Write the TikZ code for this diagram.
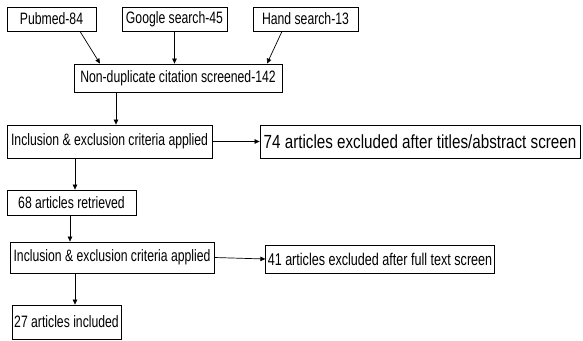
\documentclass[tikz,border=0pt]{standalone}
\usepackage{fontspec}
\setmainfont{Liberation Sans}
\newfontfamily\narrowsans{Liberation Sans}[FakeStretch=0.74]
\newfontfamily\widesans{Liberation Sans}[FakeStretch=0.8]
\usepackage{tikz}
\usetikzlibrary{arrows.meta,positioning}

\begin{document}
\begin{tikzpicture}[x=1pt,y=-1pt,font=\narrowsans\fontsize{16.5}{18}\selectfont,
  box/.style={draw,line width=0.8pt,inner sep=2pt,align=left},
  big/.style={font=\widesans\fontsize{19}{21}\selectfont},
  mid/.style={font=\narrowsans\fontsize{17}{19}\selectfont},
  arr/.style={-{Triangle[length=5pt,width=4.5pt]},line width=0.7pt}]
\useasboundingbox (0,0) rectangle (583,340);
\node[box,minimum width=89pt,minimum height=24pt] (pubmed) at (51.5,19) {Pubmed-84};
\node[box,minimum width=105pt,minimum height=24pt] (google) at (174.5,19) {Google search-45};
\node[box,minimum width=105pt,minimum height=24pt] (hand) at (305.5,19) {Hand search-13};
\node[box,minimum width=208pt,minimum height=28pt] (nondup) at (178,78) {Non-duplicate citation screened-142};
\node[box,minimum width=205pt,minimum height=33pt] (incla) at (109.5,141.5) {Inclusion \& exclusion criteria applied};
\node[box,big,minimum width=320pt,minimum height=33pt] (excla) at (420,141.5) {74 articles excluded after titles/abstract screen};
\node[box,minimum width=129pt,minimum height=25pt] (retr) at (71.5,202.5) {68 articles retrieved};
\node[box,minimum width=204pt,minimum height=31pt] (inclb) at (112,257.5) {Inclusion \& exclusion criteria applied};
\node[box,mid,minimum width=228pt,minimum height=28pt] (exclb) at (380,259) {41 articles excluded after full text screen};
\node[box,minimum width=109pt,minimum height=34pt] (incl) at (66.5,322) {27 articles included};
\draw[arr] ([xshift=28.5pt]pubmed.south) -- ([xshift=-78pt]nondup.north);
\draw[arr] (google.south) -- (google.south |- nondup.north);
\draw[arr] ([xshift=-23.5pt]hand.south) -- ([xshift=89pt]nondup.north);
\draw[arr] ([xshift=-62pt]nondup.south) -- ([xshift=-62pt]nondup.south |- incla.north);
\draw[arr] (incla.east) -- (excla.west);
\draw[arr] ([xshift=-34.5pt]incla.south) -- ([xshift=-34.5pt]incla.south |- retr.north);
\draw[arr] ([xshift=-1.5pt]retr.south) -- ([xshift=-1.5pt]retr.south |- inclb.north);
\draw[arr] (inclb.east) -- (exclb.west);
\draw[arr] ([xshift=-37pt]inclb.south) -- ([xshift=-37pt]inclb.south |- incl.north);
\end{tikzpicture}
\end{document}
